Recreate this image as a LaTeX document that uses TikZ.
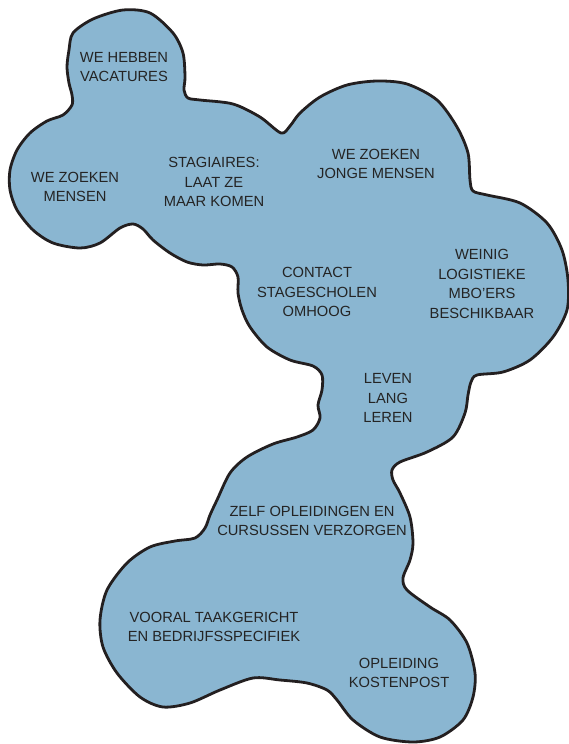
\documentclass[tikz,border=0pt]{standalone}
\usepackage{fontspec}
\setmainfont{Liberation Sans}
\definecolor{blobfill}{HTML}{8AB6D1}
\definecolor{blobline}{HTML}{231F20}
\definecolor{txt}{HTML}{242424}
\begin{document}
\begin{tikzpicture}[x=1pt,y=-1pt,
  blob/.style={fill=blobfill,draw=blobline,line width=2.8pt,line join=round},
  lbl/.style={align=center,inner sep=0pt,text=txt,font=\fontsize{14.7}{19.5}\selectfont}]
\useasboundingbox (0,0) rectangle (569,744);
\draw[blob] plot[smooth cycle,tension=0.5] coordinates {
(123,10) (150,13) (173,33) (183,53) (185,77) (184,90) (188,98) (200,100)
(233,104) (260,117) (281,133) (290,126) (300,113) (320,97) (347,85) (377,81)
(407,84) (437,100) (457,127) (468,153) (470,180) (473,191) (487,195) (520,203)
(547,223) (562,250) (568,280) (567,310) (553,337) (530,360) (503,372) (477,375)
(471,382) (468,395) (465,413) (453,437) (427,452) (400,462) (392,470) (393,480)
(400,493) (410,517) (413,543) (410,560) (403,578) (407,590) (430,607) (450,620)
(467,643) (475,673) (473,697) (463,720) (440,737) (413,742) (380,737) (353,720)
(337,700) (327,690) (307,683) (280,680) (253,678) (220,690) (190,703) (163,707)
(140,697) (117,673) (103,647) (100,620) (107,590) (127,563) (150,547) (175,541)
(195,538) (205,528) (210,515) (217,500) (230,473) (247,457) (273,444) (297,437)
(313,430) (320,418) (318,405) (322,390) (322,375) (313,366) (290,360) (267,347)
(250,327) (242,310) (238,293) (238,277) (232,267) (220,264) (203,265) (187,262)
(170,253) (153,240) (143,229) (133,224) (120,228) (100,243) (80,248) (53,243)
(33,230) (17,210) (10,190) (10,170) (17,150) (30,133) (47,121) (63,115)
(72,105) (72,95) (69,83) (67,67) (69,50) (73,33) (93,19)};
\node[lbl] (vac) at (124,67) {WE HEBBEN\\VACATURES};
\node[lbl] (zm) at (75,187) {WE ZOEKEN\\MENSEN};
\node[lbl] (stag) at (214,182) {STAGIAIRES:\\LAAT ZE\\MAAR KOMEN};
\node[lbl] (jong) at (376,164) {WE ZOEKEN\\JONGE MENSEN};
\node[lbl] (cont) at (317,292) {CONTACT\\STAGESCHOLEN\\OMHOOG};
\node[lbl] (mbo) at (482,284) {WEINIG\\LOGISTIEKE\\MBO’ERS\\BESCHIKBAAR};
\node[lbl] (lll) at (388,398) {LEVEN\\LANG\\LEREN};
\node[lbl] (zelf) at (312,521) {ZELF OPLEIDINGEN EN\\CURSUSSEN VERZORGEN};
\node[lbl] (taak) at (214,627) {VOORAL TAAKGERICHT\\EN BEDRIJFSSPECIFIEK};
\node[lbl] (kost) at (399,673) {OPLEIDING\\KOSTENPOST};
\end{tikzpicture}
\end{document}
